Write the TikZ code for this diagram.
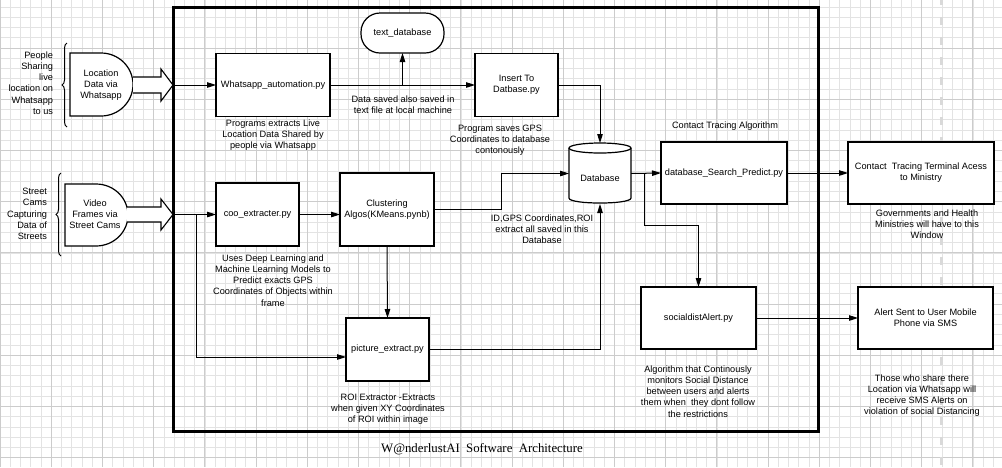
\documentclass[tikz,border=0pt]{standalone}
\usepackage{fontspec}
\setmainfont{Liberation Sans}
\newfontfamily\titlefont{Liberation Serif}
\usetikzlibrary{arrows.meta,decorations.pathreplacing}
\begin{document}
\begin{tikzpicture}[x=1pt,y=-1pt,
  every node/.style={font=\fontsize{9.2}{11.2}\selectfont, inner sep=0pt, outer sep=0pt},
  box/.style={draw, line width=1.2pt, fill=white, align=center},
  captxt/.style={align=center},
  conn/.style={line width=1pt},
  arr/.style={conn, -{Triangle[length=9pt,width=5.5pt]}},
  gmin/.style={draw=black!11, line width=0.6pt},
  gmaj/.style={draw=black!20, line width=0.7pt},
  shp/.style={draw, line width=1.2pt, fill=white},
  brc/.style={draw, line width=1pt, decorate, decoration={brace, amplitude=5pt}},
]
\useasboundingbox (0,0) rectangle (1002,467);
\fill[white] (0,0) rectangle (1002,467);
% grid
\foreach \i in {0,...,98} \draw[gmin] (\i*10.24,0) -- (\i*10.24,467);
\foreach \i in {0,...,46} \draw[gmin] (0,\i*10.24+7.04) -- (1002,\i*10.24+7.04);
\foreach \i in {0,...,19} \draw[gmaj] (\i*51.2,0) -- (\i*51.2,467);
\foreach \i in {0,...,9} \draw[gmaj] (0,\i*51.2-3.2) -- (1002,\i*51.2-3.2);
\draw[draw=black!15, line width=3pt, dash pattern=on 8pt off 12pt] (941,-3) -- (941,467);
% main frame
\draw[line width=3pt] (173,7) rectangle (818,431);

% left inputs
\draw[brc] (67,127) -- (67,43);
\node[align=right, anchor=east] (ppl) at (53,83) {People\\Sharing\\live\\location on\\Whatsapp\\to us};
\draw[shp] (70,53) -- (101,53) arc[start angle=-90, end angle=90, x radius=32, y radius=31.5] -- (70,116) -- cycle;
\node[captxt] (loc) at (101,85) {Location\\Data via\\Whatsapp};
\draw[shp, line width=1.1pt] (133,77) -- (161,77) -- (161,69) -- (173,85) -- (161,101) -- (161,93) -- (133,93);
\coordinate (a1) at (173,85);

\draw[brc] (61,256) -- (61,173);
\node[align=right, anchor=east] (str) at (47,214) {Street\\Cams\\Capturing\\Data of\\Streets};
\draw[shp] (65,184) -- (96,184) arc[start angle=-90, end angle=90, x radius=32, y radius=31] -- (65,246) -- cycle;
\node[captxt] (vid) at (95,214) {Video\\Frames via\\Street Cams};
\draw[shp, line width=1.1pt] (127,207) -- (161,207) -- (161,199) -- (173,214.5) -- (161,230) -- (161,222) -- (127,222);
\coordinate (a2) at (173,214.5);

% top row
\node[box, minimum width=114pt, minimum height=63pt] (wa) at (273,85) {Whatsapp\_automation.py};
\node[captxt] (wac) at (273,135) {Programs extracts Live\\Location Data Shared by\\people via Whatsapp};
\node[draw, line width=1.2pt, fill=white, rounded corners=19pt, minimum width=83pt, minimum height=40pt] (ts) at (402.5,33) {text\_database};
\node[box, minimum width=83pt, minimum height=63pt] (ins) at (516.5,85) {Insert To\\Datbase.py};
\node[captxt] (dsl) at (403,104.5) {Data saved also saved in\\text file at local machine};
\node[captxt] (insc) at (500,140.5) {Program saves GPS\\Coordinates to database\\contonously};

% database cylinder
\draw[shp] (569,148) -- (569,198) .. controls (569,204.7) and (631,204.7) .. (631,198) -- (631,148);
\draw[shp] (600,148) ellipse [x radius=31, y radius=5];
\node[minimum width=62pt, minimum height=61pt] (db) at (600,173.5) {};
\node (dbt) at (600,178) {Database};

\node[captxt] (cta) at (725,126) {Contact Tracing Algorithm};
\node[box, minimum width=126pt, minimum height=62pt] (sp) at (724,173) {database\_Search\_Predict.py};
\node[box, minimum width=146pt, minimum height=62pt] (ct) at (921,173) {Contact~~Tracing Terminal Acess\\to Ministry};
\node[captxt] (ctc) at (927,224) {Governments and Health\\Ministries will have to this\\Window};

% middle row
\node[box, minimum width=83pt, minimum height=63pt] (coo) at (257.5,214.5) {coo\_extracter.py};
\node[captxt] (cooc) at (273,280.5) {Uses Deep Learning and\\Machine Learning Models to\\Predict exacts GPS\\Coordinates of Objects within\\frame};
\node[box, minimum width=94pt, minimum height=73pt] (cl) at (387,209.5) {Clustering\\Algos(KMeans.pynb)};
\node[captxt] (idc) at (542,229) {ID,GPS Coordinates,ROI\\extract all saved in this\\Database};
\node[box, minimum width=83pt, minimum height=63pt] (pe) at (387.5,349.5) {picture\_extract.py};
\node[captxt] (pec) at (388,409.5) {ROI Extractor -Extracts\\when given XY Coordinates\\of ROI within image};

% bottom right
\node[box, minimum width=115pt, minimum height=62pt] (sa) at (698.5,318) {socialdistAlert.py};
\node[captxt] (sac) at (698,391.5) {Algorithm that Continously\\monitors Social Distance\\between users and alerts\\them when~~they dont follow\\the restrictions};
\node[box, minimum width=135pt, minimum height=62pt] (al) at (925.5,318) {Alert Sent to User Mobile\\Phone via SMS};
\node[captxt] (alc) at (922,395.5) {Those who share there\\Location via Whatsapp will\\receive SMS Alerts on\\violation of social Distancing};

% title
\node[font=\titlefont\fontsize{12.8}{14}\selectfont] (title) at (482,449) {W@nderlustAI\ \ Software\ \ Architecture};

% connectors
\draw[arr] (a1) -- (wa.west);
\draw[arr] (wa.east) -- (ins.west);
\draw[arr] (wa.east -| ts.south) -- (ts.south);
\draw[arr] (ins.east) -| (db.north);
\draw[arr] (a2) -- (coo.west);
\coordinate (b1) at (196,214.5);
\coordinate (b2) at (196,357);
\draw[arr] (b1) -- (b2) -- (b2 -| pe.west);
\draw[arr] (coo.east) -- (coo.east -| cl.west);
\draw[arr] (cl.south) -- (pe.north);
\coordinate (k1) at (501,209.5);
\draw[arr] (cl.east) -- (k1) |- (db.west);
\draw[arr] (pe.east) -| (db.south);
\draw[arr] (db.east) -- (sp.west);
\coordinate (j1) at (644,173);
\coordinate (j2) at (644,225);
\draw[arr] (j1) -- (j2) -| (sa.north);
\draw[arr] (sp.east) -- (ct.west);
\draw[arr] (sa.east) -- (al.west);
\end{tikzpicture}
\end{document}
